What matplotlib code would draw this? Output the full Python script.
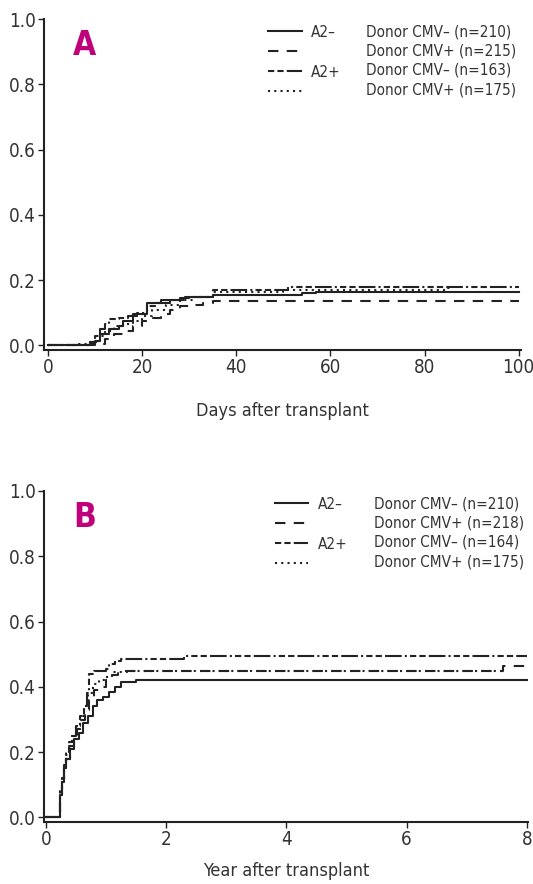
import numpy as np
import matplotlib.pyplot as plt

plt.rcParams['font.family'] = ['DejaVu Sans']
plt.rcParams['font.stretch'] = 'condensed'

# ---- Panel A: days after transplant ----
a_labels = ["Donor CMV\u2013 (n=210)", "Donor CMV+ (n=215)",
            "Donor CMV\u2013 (n=163)", "Donor CMV+ (n=175)"]
a_solid_t = [0, 9, 10, 11, 13, 15, 16, 18, 21, 24, 28, 30, 35, 54, 57, 100]
a_solid_v = [0, 0.005, 0.015, 0.035, 0.05, 0.06, 0.075, 0.095, 0.13, 0.14, 0.145, 0.15, 0.155, 0.16, 0.163, 0.163]
a_dash_t = [0, 10, 12, 14, 16, 18, 20, 22, 24, 26, 28, 30, 33, 35, 100]
a_dash_v = [0, 0.005, 0.02, 0.035, 0.045, 0.06, 0.075, 0.085, 0.095, 0.11, 0.12, 0.125, 0.13, 0.137, 0.137]
a_dashdot_t = [0, 9, 10, 11, 12, 13, 15, 17, 19, 21, 23, 26, 29, 35, 51, 100]
a_dashdot_v = [0, 0.01, 0.03, 0.05, 0.065, 0.08, 0.085, 0.09, 0.10, 0.12, 0.13, 0.14, 0.15, 0.17, 0.178, 0.178]
a_dot_t = [0, 6, 9, 11, 12, 14, 16, 18, 20, 22, 25, 28, 31, 35, 50, 85, 86]
a_dot_v = [0, 0.005, 0.01, 0.03, 0.045, 0.06, 0.065, 0.075, 0.09, 0.11, 0.125, 0.14, 0.15, 0.165, 0.17, 0.175, 0.175]

# ---- Panel B: years after transplant ----
b_labels = ["Donor CMV\u2013 (n=210)", "Donor CMV+ (n=218)",
            "Donor CMV\u2013 (n=164)", "Donor CMV+ (n=175)"]
b_solid_t = [0, 0.24, 0.27, 0.30, 0.34, 0.40, 0.47, 0.55, 0.62, 0.70, 0.78, 0.85, 0.95, 1.05, 1.15, 1.25, 1.5, 8]
b_solid_v = [0, 0.07, 0.11, 0.15, 0.18, 0.21, 0.24, 0.26, 0.29, 0.31, 0.34, 0.36, 0.37, 0.385, 0.40, 0.415, 0.42, 0.42]
b_dash_t = [0, 0.24, 0.27, 0.30, 0.34, 0.40, 0.46, 0.52, 0.58, 0.65, 0.72, 0.80, 0.90, 1.00, 1.10, 1.20, 1.35, 7.6, 8]
b_dash_v = [0, 0.07, 0.11, 0.15, 0.18, 0.22, 0.25, 0.27, 0.30, 0.33, 0.36, 0.39, 0.40, 0.42, 0.435, 0.445, 0.45, 0.465, 0.465]
b_dashdot_t = [0, 0.24, 0.27, 0.30, 0.34, 0.38, 0.43, 0.50, 0.57, 0.63, 0.68, 0.72, 0.80, 1.00, 1.05, 1.15, 1.25, 2.3, 8]
b_dashdot_v = [0, 0.08, 0.12, 0.16, 0.20, 0.23, 0.25, 0.28, 0.31, 0.34, 0.38, 0.44, 0.45, 0.455, 0.47, 0.48, 0.485, 0.495, 0.495]
b_dot_t = [0, 0.24, 0.27, 0.30, 0.34, 0.38, 0.44, 0.50, 0.57, 0.63, 0.70, 0.78, 0.88, 1.00, 1.10, 1.25, 7.6]
b_dot_v = [0, 0.08, 0.12, 0.15, 0.19, 0.22, 0.25, 0.28, 0.31, 0.34, 0.38, 0.41, 0.42, 0.43, 0.445, 0.45, 0.45]

groups = ["A2\u2013", "", "A2+", ""]
ink = '#222222'
txt = '#333333'
styles = [
    dict(ls='-', lw=1.5),
    dict(ls=(0, (5, 4)), lw=1.5),
    dict(ls=(0, (3, 1.5, 3, 1.5, 8, 1.5, 1, 1.5)), lw=1.5),
    dict(ls=(0, (1, 2)), lw=1.5),
]

fig = plt.figure(figsize=(5.33, 8.84), dpi=100)
axA = fig.add_axes([0.0826, 0.604, 0.895, 0.3744])
axB = fig.add_axes([0.0826, 0.0701, 0.908, 0.3745])


def panel(ax, series, labels, letter, xlim, xticks, xlabel, leg_x, lpad):
    handles = []
    for (t, v), st in zip(series, styles):
        h, = ax.step(t, v, where='post', color=ink, **st)
        handles.append(h)
    ax.set_xlim(*xlim)
    ax.set_ylim(-0.014, 1.0)
    ax.set_xticks(xticks)
    ax.set_yticks([0, 0.2, 0.4, 0.6, 0.8, 1.0])
    ax.set_yticklabels(['0.0', '0.2', '0.4', '0.6', '0.8', '1.0'])
    for s in ['top', 'right']:
        ax.spines[s].set_visible(False)
    for s in ['left', 'bottom']:
        ax.spines[s].set_color(ink)
        ax.spines[s].set_linewidth(1.5)
    ax.tick_params(direction='out', length=4, width=1, colors=ink, labelcolor=txt, labelsize=13.5, pad=2)
    ax.set_xlabel(xlabel, fontsize=13, color=txt, labelpad=lpad)
    ax.text(0.085, 0.92, letter, transform=ax.transAxes, fontsize=24, fontweight='bold',
            color='#c0007a', ha='center', va='center')
    leg = ax.legend(handles, groups, loc='upper left', bbox_to_anchor=(leg_x, 0.983),
                    frameon=False, fontsize=11, handlelength=2.2, handletextpad=0.6,
                    labelspacing=0.33, borderpad=0, borderaxespad=0)
    for tx in leg.get_texts():
        tx.set_color(txt)
    for i, lab in enumerate(labels):
        ax.text(leg_x + 0.205, 0.962 - i * 0.0585, lab, transform=ax.transAxes,
                fontsize=11, color=txt, ha='left', va='center')


panel(axA, [(a_solid_t, a_solid_v), (a_dash_t, a_dash_v), (a_dashdot_t, a_dashdot_v), (a_dot_t, a_dot_v)],
      a_labels, 'A', (-0.85, 100.5), [0, 20, 40, 60, 80, 100], 'Days after transplant', 0.47, 18)
panel(axB, [(b_solid_t, b_solid_v), (b_dash_t, b_dash_v), (b_dashdot_t, b_dashdot_v), (b_dot_t, b_dot_v)],
      b_labels, 'B', (-0.033, 8.02), [0, 2, 4, 6, 8], 'Year after transplant', 0.477, 9)

fig.savefig('out.png', dpi=100)
